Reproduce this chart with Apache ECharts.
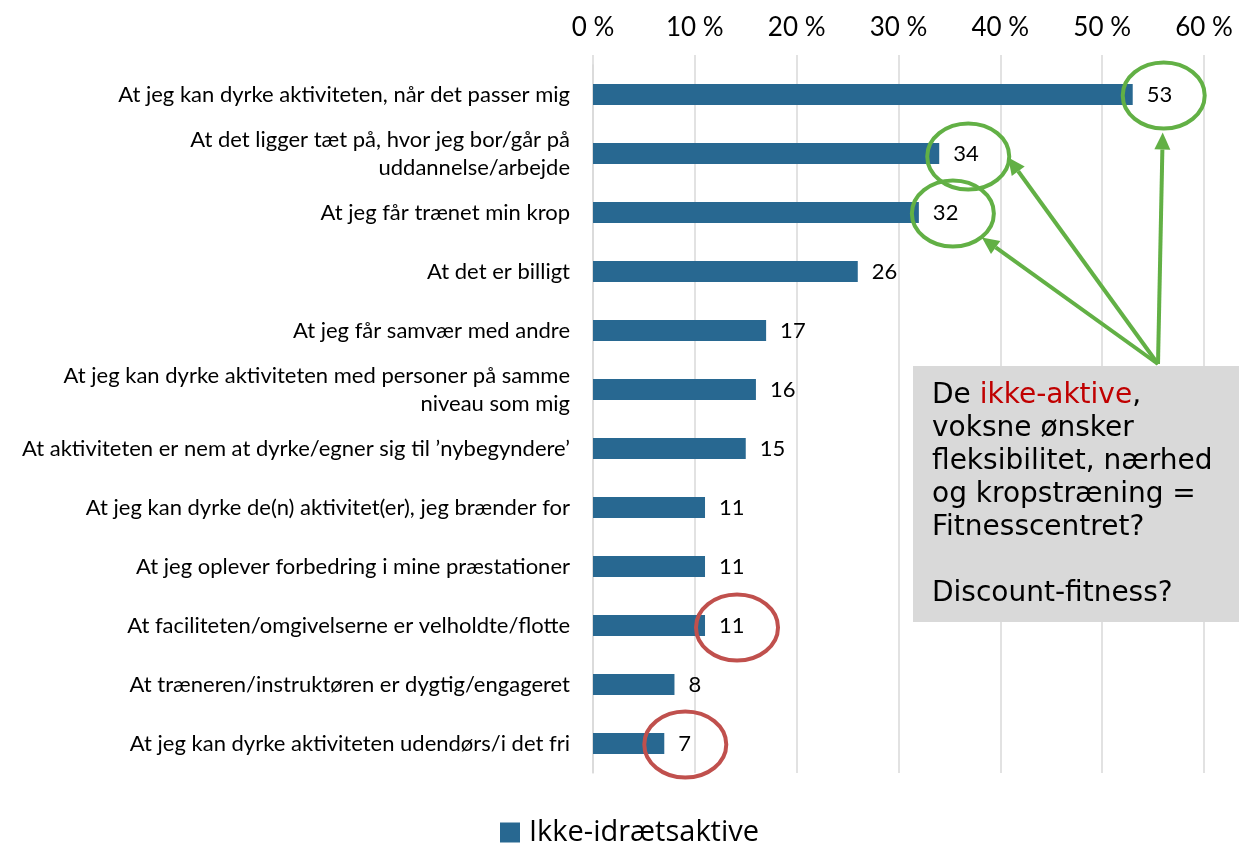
<!DOCTYPE html>
<html>
<head>
<meta charset="utf-8">
<script src="https://cdn.jsdelivr.net/npm/echarts@6/dist/echarts.min.js"></script>
<style>
  html, body { margin: 0; padding: 0; background: #fff; }
  #chart { width: 1239px; height: 843px; }
</style>
</head>
<body>
<div id="chart"></div>
<script>
const categories = [
  "At jeg kan dyrke aktiviteten, når det passer mig",
  "At det ligger tæt på, hvor jeg bor/går på\nuddannelse/arbejde",
  "At jeg får trænet min krop",
  "At det er billigt",
  "At jeg får samvær med andre",
  "At jeg kan dyrke aktiviteten med personer på samme\nniveau som mig",
  "At aktiviteten er nem at dyrke/egner sig til ’nybegyndere’",
  "At jeg kan dyrke de(n) aktivitet(er), jeg brænder for",
  "At jeg oplever forbedring i mine præstationer",
  "At faciliteten/omgivelserne er velholdte/flotte",
  "At træneren/instruktøren er dygtig/engageret",
  "At jeg kan dyrke aktiviteten udendørs/i det fri"
];
const values = [53, 34, 32, 26, 17, 16, 15, 11, 11, 11, 8, 7];
const seriesName = "Ikke-idrætsaktive";

// rows that get circled in the picture
const greenRows = [0, 1, 2];
const redRows = [9, 11];

const boxText = [
  "De {r|ikke-aktive},",
  "voksne ønsker",
  "fleksibilitet, nærhed",
  "og kropstræning =",
  "Fitnesscentret?",
  "",
  "Discount-fitness?"
];

const barColor = "#286891";
const green = "#62B045";
const red = "#C0504D";

const chart = echarts.init(document.getElementById("chart"));

chart.setOption({
  animation: false,
  textStyle: { fontFamily: "Lato" },
  grid: { left: 593, right: 35, top: 65, bottom: 70 },
  legend: {
    data: [seriesName],
    left: 500,
    top: 818,
    padding: 0,
    itemWidth: 20,
    itemHeight: 20,
    icon: "rect",
    textStyle: { fontSize: 29, color: "#000", fontFamily: "Open Sans", padding: [0, 0, 0, 4] }
  },
  xAxis: {
    type: "value",
    position: "top",
    min: 0,
    max: 60,
    interval: 10,
    axisLine: { show: false },
    axisTick: { show: true, length: 10, lineStyle: { color: "#D9D9D9", width: 1.5 } },
    splitLine: { lineStyle: { color: "#D9D9D9", width: 1.5 } },
    axisLabel: {
      formatter: "{value} %",
      fontSize: 26,
      color: "#000",
      margin: 24
    }
  },
  yAxis: {
    type: "category",
    inverse: true,
    data: categories,
    axisLine: { show: true, lineStyle: { color: "#D9D9D9", width: 1.5 } },
    axisTick: { show: false },
    axisLabel: {
      fontSize: 22,
      color: "#000",
      margin: 23,
      lineHeight: 28,
      align: "right"
    }
  },
  series: [{
    name: seriesName,
    type: "bar",
    data: values,
    barWidth: 21,
    itemStyle: { color: barColor },
    label: {
      show: true,
      position: "right",
      distance: 14,
      fontSize: 22,
      color: "#000"
    }
  }]
});

// annotations: ellipses around some value labels + arrows from the text box
function barEnd(i) {
  return chart.convertToPixel({ gridIndex: 0 }, [values[i], i]);
}

const ellipseOffsets = { 0: [31, 1], 1: [29, 3], 2: [34, 1], 9: [32, 2], 11: [21, 1] };
const arrowTipOffsets = { 0: [-1, 37], 1: [40, 1], 2: [29, 24] };
const arrowOrigin = [1158, 364];

const graphics = [];

function ellipseAt(i, color) {
  const p = barEnd(i);
  const o = ellipseOffsets[i];
  const c = [p[0] + o[0], p[1] + o[1]];
  graphics.push({
    type: "ellipse",
    shape: { cx: c[0], cy: c[1], rx: 41, ry: 33 },
    style: { fill: "none", stroke: color, lineWidth: 4 },
    z: 100
  });
  return c;
}

greenRows.forEach(i => {
  const c = ellipseAt(i, green);
  const t = arrowTipOffsets[i];
  const tip = [c[0] + t[0], c[1] + t[1]];
  const dx = tip[0] - arrowOrigin[0];
  const dy = tip[1] - arrowOrigin[1];
  const len = Math.sqrt(dx * dx + dy * dy);
  const ux = dx / len, uy = dy / len;
  const headLen = 17, headHalf = 8;
  const base = [tip[0] - ux * headLen, tip[1] - uy * headLen];
  graphics.push({
    type: "line",
    shape: { x1: arrowOrigin[0], y1: arrowOrigin[1], x2: base[0], y2: base[1] },
    style: { stroke: green, lineWidth: 4 },
    z: 100
  });
  graphics.push({
    type: "polygon",
    shape: {
      points: [
        tip,
        [base[0] - uy * headHalf, base[1] + ux * headHalf],
        [base[0] + uy * headHalf, base[1] - ux * headHalf]
      ]
    },
    style: { fill: green },
    z: 100
  });
});

redRows.forEach(i => ellipseAt(i, red));

graphics.push({
  type: "rect",
  shape: { x: 913, y: 366, width: 326, height: 256 },
  style: { fill: "#D9D9D9" },
  z: 101
});
graphics.push({
  type: "text",
  x: 932,
  y: 379,
  style: {
    text: boxText.join("\n"),
    fontFamily: "DejaVu Sans",
    fontSize: 28,
    lineHeight: 33,
    fill: "#000",
    rich: {
      r: { fill: "#C00000", fontFamily: "DejaVu Sans", fontSize: 28, lineHeight: 33 }
    }
  },
  z: 102
});

chart.setOption({ graphic: graphics });

window.addEventListener("resize", () => chart.resize());
</script>
</body>
</html>
